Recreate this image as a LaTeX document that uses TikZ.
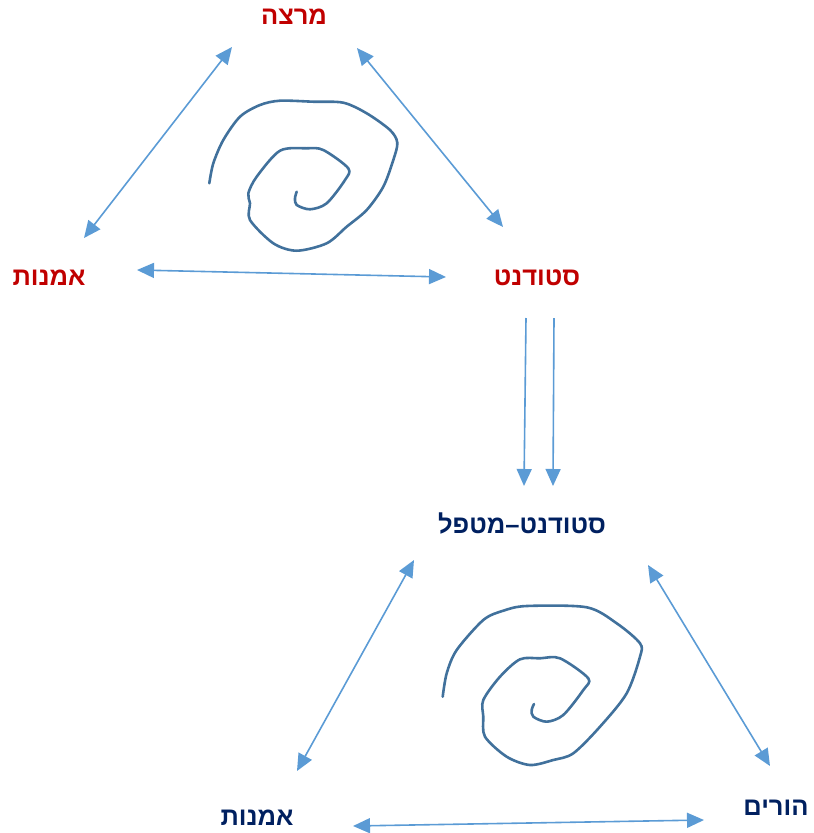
\documentclass[tikz,border=0pt]{standalone}
\usepackage{fontspec}
\newfontfamily\hebfont[Script=Hebrew]{Liberation Sans}
\TeXXeTstate=1
\usetikzlibrary{arrows.meta}
\definecolor{redlbl}{HTML}{C00000}
\definecolor{bluelbl}{HTML}{002060}
\definecolor{arrowblue}{HTML}{5B9BD5}
\definecolor{spiralblue}{HTML}{41719C}
\tikzset{
  lbl/.style={inner sep=0pt, font=\hebfont\bfseries\fontsize{25.5}{30}\selectfont},
  redtext/.style={lbl, text=redlbl},
  bluetext/.style={lbl, text=bluelbl},
  dblarrow/.style={draw=arrowblue, line width=1.6pt, {Triangle[length=17pt,width=15pt]}-{Triangle[length=17pt,width=15pt]}},
  onearrow/.style={draw=arrowblue, line width=1.6pt, -{Triangle[length=17pt,width=15pt]}},
  spiral/.style={draw=spiralblue, line width=2.6pt, line cap=round, line join=round}
}
\begin{document}
\begin{tikzpicture}[x=1pt,y=-1pt]
\useasboundingbox (0,0) rectangle (814,833);
% labels
\node[redtext] (lect) at (294,17) {\beginR מרצה\endR};
\node[redtext] (art1) at (49,278) {\beginR אמנות\endR};
\node[redtext] (stud) at (537,278) {\beginR סטודנט\endR};
\node[bluetext] (studther) at (522,523) {\beginR סטודנט–מטפל\endR};
\node[bluetext] (art2) at (257,818) {\beginR אמנות\endR};
\node[bluetext] (par) at (776,808) {\beginR הורים\endR};
% arrow end coordinates
\coordinate (a1s) at (84,238);
\coordinate (a1e) at (232,47);
\coordinate (a2s) at (357,48);
\coordinate (a2e) at (503,227);
\coordinate (a3s) at (137,270);
\coordinate (a3e) at (446,277);
\coordinate (d1s) at (526,318);
\coordinate (d1e) at (524,486);
\coordinate (d2s) at (554,318);
\coordinate (d2e) at (553,486);
\coordinate (b1s) at (414,560);
\coordinate (b1e) at (297,771);
\coordinate (b2s) at (648,565);
\coordinate (b2e) at (770,766);
\coordinate (b3s) at (353,826);
\coordinate (b3e) at (704,820);
% arrows
\draw[dblarrow] (a1s) -- (a1e);
\draw[dblarrow] (a2s) -- (a2e);
\draw[dblarrow] (a3s) -- (a3e);
\draw[onearrow] (d1s) -- (d1e);
\draw[onearrow] (d2s) -- (d2e);
\draw[dblarrow] (b1s) -- (b1e);
\draw[dblarrow] (b2s) -- (b2e);
\draw[dblarrow] (b3s) -- (b3e);
% spirals
\draw[spiral] plot[smooth, tension=0.5] coordinates {
(209.3,183.3) (213.3,163.3) (223.3,140) (240,116.7) (260,105) (280,100.7)
(313.3,101.7) (343.3,102.7) (366.7,113.3) (390,130) (397.3,142.7) (393.3,160)
(383.3,186.7) (366.7,210) (346.7,226.7) (326.7,243.3) (296.7,250.7) (273.3,243.3)
(250,220) (250,203.3) (248.3,193.3) (256.7,176.7) (280,150.7) (306.7,148.3)
(323.3,150) (348.3,168.3) (345,180) (326.7,203.3) (310,209.3) (296.7,205)
(295,198.3) (296.7,191.7)};
\draw[spiral] plot[smooth, tension=0.5] coordinates {
(442.7,696.7) (446.7,673.3) (456.7,650) (483.3,620) (503.3,610.7) (526.7,606)
(586.7,607.3) (616.7,623.3) (640,643.3) (640,656.7) (626.7,693.3) (600,726.7)
(573.3,753.3) (553.3,760) (530,765) (506.7,756.7) (485,736.7) (483.3,716.7)
(483.3,700) (500,676.7) (520,659.3) (540,658.3) (560,658.3) (588.3,678.3)
(583.3,690) (563.3,715) (546.7,721.7) (533.3,716.7) (531.7,710) (534,704)};
\end{tikzpicture}
\end{document}
